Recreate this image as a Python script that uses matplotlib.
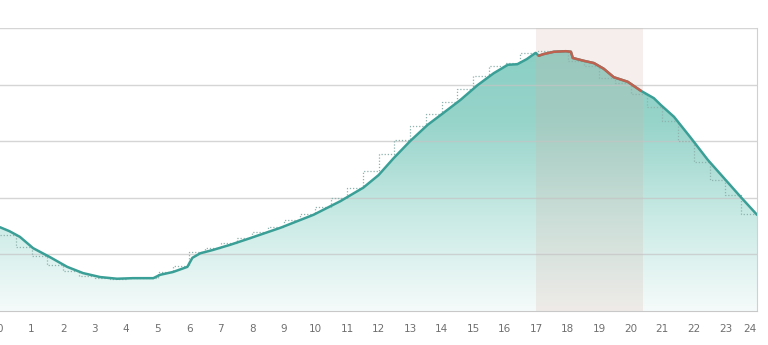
import matplotlib.pyplot as plt
import numpy as np
from matplotlib.colors import LinearSegmentedColormap
from matplotlib.patches import Polygon

# hour of day and measured value (smooth curve)
hours = [0.0, 0.3, 0.63, 1.05, 1.59, 2.13, 2.63, 3.17, 3.71, 4.22, 4.86, 5.08,
         5.49, 5.94, 6.10, 6.35, 6.76, 7.3, 7.84, 8.89, 9.94, 10.79, 11.52, 12.0,
         12.48, 13.0, 13.56, 14.06, 14.6, 15.14, 15.65, 16.1, 16.4, 16.7, 16.98,
         17.08, 17.24, 17.56, 17.94, 18.1, 18.16, 18.51, 18.83, 19.14, 19.46,
         19.9, 20.32, 20.73, 20.95, 21.37, 21.9, 22.44, 22.95, 23.49, 24.0]
values = [14.8, 14.1, 13.1, 11.1, 9.5, 7.8, 6.7, 6.0, 5.7, 5.8, 5.8, 6.4,
          6.9, 7.8, 9.4, 10.2, 10.8, 11.7, 12.7, 14.7, 17.0, 19.4, 21.8, 24.0,
          27.0, 30.0, 32.9, 35.0, 37.3, 39.9, 42.0, 43.5, 43.6, 44.5, 45.6,
          45.1, 45.4, 45.8, 45.9, 45.8, 44.7, 44.2, 43.8, 42.8, 41.3,
          40.5, 38.9, 37.6, 36.4, 34.3, 30.6, 26.7, 23.5, 20.1, 17.0]

# half-hour averages (dotted steps)
step_start = np.arange(0, 24, 0.5)
step_vals = [13.5, 11.3, 9.8, 8.2, 7.0, 6.2, 5.8, 5.7, 5.8, 5.9, 6.9, 7.9,
             10.5, 11.2, 12.0, 12.9, 13.9, 14.9, 16.0, 17.1, 18.4, 19.9, 21.8, 24.7,
             27.7, 30.2, 32.6, 34.8, 36.9, 39.3, 41.5, 43.2, 43.8, 45.6, 45.9, 46.0,
             44.2, 43.2, 41.2, 40.2, 38.3, 36.0, 33.5, 30.0, 26.3, 23.2, 20.5, 17.2]

band = (17.0, 20.4)
xticks = list(range(25))

hours = np.array(hours)
values = np.array(values)

fig = plt.figure(figsize=(7.68, 3.45), dpi=100)
ax = fig.add_axes([0.0, 1 - 311 / 345, 757 / 768, 283 / 345])
ax.set_xlim(0, 24)
ax.set_ylim(0, 50)

# gradient fill under the curve
cmap = LinearSegmentedColormap.from_list("tl", ["#f5fbfa", "#c9eae5", "#97d4ca", "#86cdc2"])
grad = np.linspace(0, 1, 256).reshape(-1, 1)
im = ax.imshow(grad, extent=[0, 24, 0, 50], origin="lower", aspect="auto",
               cmap=cmap, zorder=1)
poly = Polygon(np.column_stack([np.r_[hours, 24, 0], np.r_[values, 0, 0]]),
               closed=True, transform=ax.transData, facecolor="none", edgecolor="none")
ax.add_patch(poly)
im.set_clip_path(poly)

# highlight band
ax.axvspan(band[0], band[1], color="#d5aea2", alpha=0.2, lw=0, zorder=2)

# grid
for g in [10, 20, 30, 40, 50]:
    ax.axhline(g, color="#c4c4c4", lw=1, alpha=0.7, zorder=3)

# dotted steps
ax.step(np.r_[step_start, 24], np.r_[step_vals, step_vals[-1]], where="post",
        color="#8fb3ae", lw=0.9, ls=(0, (1, 1.5)), zorder=4)

# main line, red inside band
ax.plot(hours, values, color="#3a9f96", lw=1.8, zorder=5, solid_capstyle="round")
m = (hours >= band[0]) & (hours <= band[1])
ax.plot(hours[m], values[m], color="#c0614f", lw=1.8, zorder=6, solid_capstyle="round")

for s in ["top", "left"]:
    ax.spines[s].set_visible(False)
ax.spines["bottom"].set_color("#c8c8c8")
ax.spines["right"].set_color("#d0d0d0")
ax.set_yticks([])
ax.set_xticks(xticks)
ax.set_xticklabels([str(t) for t in xticks])
ax.tick_params(axis="x", length=0, pad=9, labelsize=7.5, labelcolor="#6f6f6f")
ax.get_xticklabels()[-1].set_horizontalalignment("right")

fig.savefig("out.png", dpi=100)
